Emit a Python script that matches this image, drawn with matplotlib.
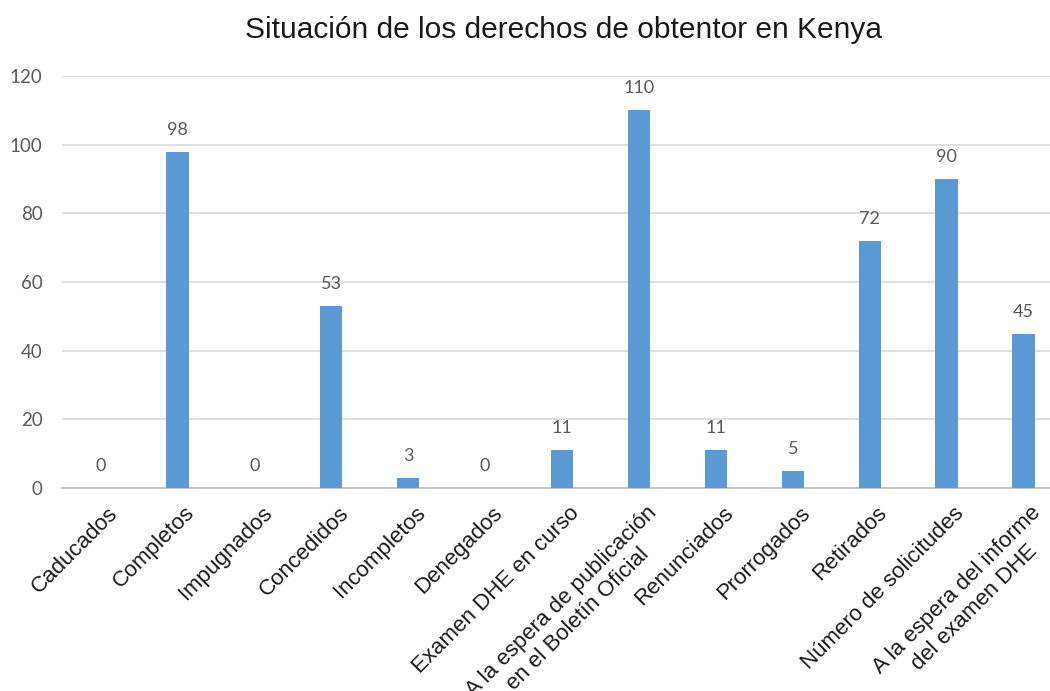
import matplotlib.pyplot as plt
from matplotlib import transforms

categorias = ['Caducados', 'Completos', 'Impugnados', 'Concedidos', 'Incompletos',
              'Denegados', 'Examen DHE en curso',
              'A la espera de publicación\nen el Boletín Oficial',
              'Renunciados', 'Prorrogados', 'Retirados', 'Número de solicitudes',
              'A la espera del informe\ndel examen DHE']
valores = [0, 98, 0, 53, 3, 0, 11, 110, 11, 5, 72, 90, 45]
yticks = [0, 20, 40, 60, 80, 100, 120]

plt.rcParams['font.family'] = ['Liberation Sans', 'DejaVu Sans']
num_font = ['Lato', 'DejaVu Sans']

fig = plt.figure(figsize=(10.5, 6.91), dpi=100)
ax = fig.add_axes([62 / 1050, 1 - 488 / 691, 1000 / 1050, 412 / 691])

x = range(len(categorias))
ax.bar(x, valores, width=0.29, color='#5B9BD5', zorder=3)

# etiquetas de valor sobre cada barra
for i, v in zip(x, valores):
    ax.annotate(str(v), (i, v), xytext=(0, 10), textcoords='offset points',
                ha='center', va='bottom', fontsize=13, color='#595959',
                family=num_font)

ax.set_xlim(-0.5, len(categorias) - 0.5)
ax.set_ylim(0, 120)
ax.set_yticks(yticks)
ax.yaxis.grid(True, color='#D9D9D9', linewidth=1.2, zorder=0)
for s in ['top', 'right', 'left']:
    ax.spines[s].set_visible(False)
ax.spines['bottom'].set_color('#BFBFBF')
ax.spines['bottom'].set_linewidth(1.2)
ax.tick_params(axis='both', length=0, colors='#595959')
ax.tick_params(axis='y', pad=14, labelsize=13.5)
for lab in ax.get_yticklabels():
    lab.set_family(num_font)

ax.set_xticks(list(x))
ax.set_xticklabels(categorias, rotation=45, ha='right', rotation_mode='anchor',
                   multialignment='center', fontsize=16, color='#1a1a1a')
offset = transforms.ScaledTranslation(5 / 72, -7 / 72, fig.dpi_scale_trans)
for lab in ax.get_xticklabels():
    lab.set_transform(lab.get_transform() + offset)

fig.text(0.537, 0.956, 'Situación de los derechos de obtentor en Kenya',
         ha='center', va='center', fontsize=21.5, color='#1a1a1a')

fig.savefig('out.png', dpi=100)
